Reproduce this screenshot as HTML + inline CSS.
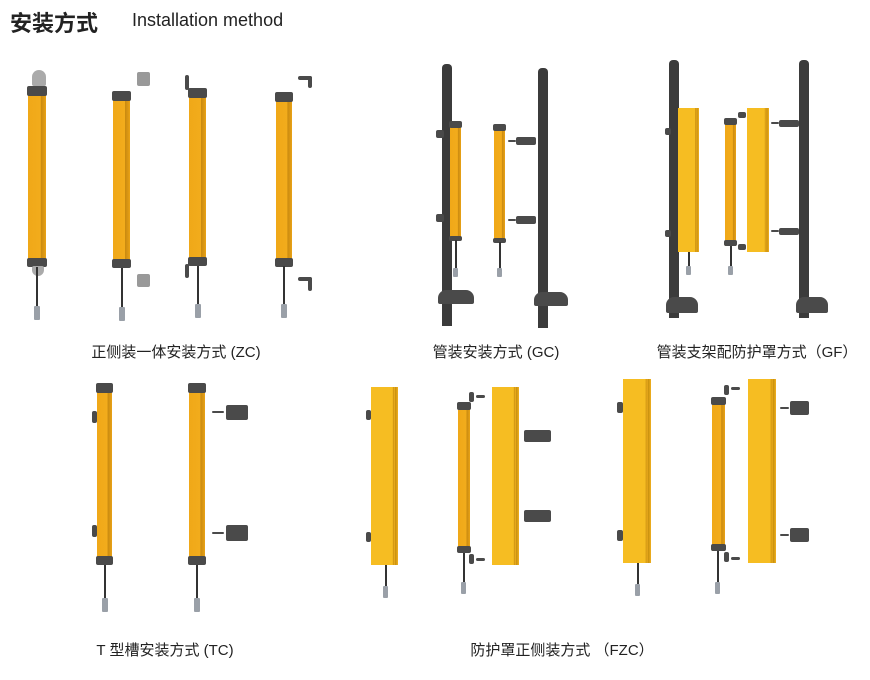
<!DOCTYPE html>
<html><head><meta charset="utf-8"><style>
*{margin:0;padding:0;box-sizing:border-box}
body{width:870px;height:680px;background:#fff;position:relative;overflow:hidden;font-family:"Liberation Sans","Noto Sans CJK SC",sans-serif;color:#222}
div{position:absolute}
.bar{background:linear-gradient(90deg,#f0a818 0,#f2ac1c 70%,#c98a10 72%,#e9a216 100%)}
.cap{background:#4a4a4a;border-radius:2px}
.cab{background:#333;width:2px}
.plug{background:#9aa0a8;width:6px;height:14px;border-radius:1px}
.pole{background:#3b3b3b;border-radius:4px 4px 0 0}
.cov{background:linear-gradient(90deg,#f6bd22 0,#f6bd22 80%,#c8900e 82%,#f0b020 86%,#c8900e 90%,#f0b020 100%)}
.br{background:#4a4a4a;border-radius:2px}
.lbl{font-size:15px;white-space:nowrap;transform:translateX(-50%)}
</style></head><body>
<div style="left:10px;top:6px;font-size:22px;font-weight:bold;color:#222">安装方式</div>
<div style="left:132px;top:10px;font-size:18px;color:#222">Installation method</div>

<!-- ZC -->
<div style="left:32px;top:70px;width:14px;height:16px;background:#aaa;border-radius:7px 7px 2px 2px"></div>
<div class="bar" style="left:28px;top:88px;width:18px;height:176px"></div>
<div class="cap" style="left:27px;top:86px;width:20px;height:10px"></div>
<div class="cap" style="left:27px;top:258px;width:20px;height:9px"></div>
<div style="left:32px;top:266px;width:12px;height:10px;background:#aaa;border-radius:2px 2px 6px 6px"></div>
<div class="cab" style="left:36px;top:267px;height:40px"></div><div class="plug" style="left:34px;top:306px"></div>

<div class="bar" style="left:113px;top:94px;width:17px;height:172px"></div>
<div class="cap" style="left:112px;top:91px;width:19px;height:10px"></div>
<div class="cap" style="left:112px;top:259px;width:19px;height:9px"></div>
<div class="br" style="left:137px;top:72px;width:13px;height:14px;background:#999"></div>
<div class="br" style="left:137px;top:274px;width:13px;height:13px;background:#999"></div>
<div class="cab" style="left:121px;top:268px;height:40px"></div><div class="plug" style="left:119px;top:307px"></div>

<div class="bar" style="left:189px;top:90px;width:17px;height:174px"></div>
<div class="cap" style="left:188px;top:88px;width:19px;height:10px"></div>
<div class="cap" style="left:188px;top:257px;width:19px;height:9px"></div>
<div class="br" style="left:185px;top:75px;width:4px;height:15px"></div>
<div class="br" style="left:185px;top:264px;width:4px;height:14px"></div>
<div class="cab" style="left:197px;top:266px;height:40px"></div><div class="plug" style="left:195px;top:304px"></div>

<div class="bar" style="left:276px;top:94px;width:16px;height:170px"></div>
<div class="cap" style="left:275px;top:92px;width:18px;height:10px"></div>
<div class="cap" style="left:275px;top:258px;width:18px;height:9px"></div>
<div class="br" style="left:298px;top:76px;width:14px;height:4px"></div><div class="br" style="left:308px;top:76px;width:4px;height:12px"></div>
<div class="br" style="left:298px;top:277px;width:14px;height:4px"></div><div class="br" style="left:308px;top:277px;width:4px;height:14px"></div>
<div class="cab" style="left:283px;top:266px;height:40px"></div><div class="plug" style="left:281px;top:304px"></div>
<div class="lbl" style="left:176px;top:341px">正侧装一体安装方式 (ZC)</div>

<!-- GC -->
<div class="pole" style="left:442px;top:64px;width:10px;height:262px"></div>
<div class="pole" style="left:538px;top:68px;width:10px;height:260px"></div>
<div class="br" style="left:436px;top:130px;width:8px;height:8px"></div><div class="br" style="left:436px;top:214px;width:8px;height:8px"></div>
<div class="bar" style="left:450px;top:122px;width:11px;height:118px"></div>
<div class="cap" style="left:449px;top:121px;width:13px;height:7px"></div><div class="cap" style="left:449px;top:236px;width:13px;height:5px"></div>
<div class="cab" style="left:455px;top:240px;height:30px"></div><div class="plug" style="left:453px;top:268px;width:5px;height:9px"></div>
<div class="bar" style="left:494px;top:126px;width:11px;height:116px"></div>
<div class="cap" style="left:493px;top:124px;width:13px;height:7px"></div><div class="cap" style="left:493px;top:238px;width:13px;height:5px"></div>
<div class="cab" style="left:499px;top:242px;height:28px"></div><div class="plug" style="left:497px;top:268px;width:5px;height:9px"></div>
<div class="br" style="left:516px;top:137px;width:20px;height:8px"></div><div class="br" style="left:508px;top:140px;width:8px;height:2px"></div>
<div class="br" style="left:516px;top:216px;width:20px;height:8px"></div><div class="br" style="left:508px;top:219px;width:8px;height:2px"></div>
<div class="br" style="left:438px;top:290px;width:36px;height:14px;border-radius:8px 8px 2px 2px"></div>
<div class="br" style="left:534px;top:292px;width:34px;height:14px;border-radius:8px 8px 2px 2px"></div>

<!-- GF -->
<div class="pole" style="left:669px;top:60px;width:10px;height:258px"></div>
<div class="pole" style="left:799px;top:60px;width:10px;height:258px"></div>
<div class="cov" style="left:678px;top:108px;width:21px;height:144px"></div>
<div class="cov" style="left:747px;top:108px;width:22px;height:144px"></div>
<div class="br" style="left:665px;top:128px;width:6px;height:7px"></div><div class="br" style="left:665px;top:230px;width:6px;height:7px"></div>
<div class="bar" style="left:725px;top:120px;width:11px;height:126px"></div>
<div class="cap" style="left:724px;top:118px;width:13px;height:7px"></div><div class="cap" style="left:724px;top:240px;width:13px;height:6px"></div>
<div class="br" style="left:738px;top:112px;width:8px;height:6px"></div><div class="br" style="left:738px;top:244px;width:8px;height:6px"></div>
<div class="br" style="left:779px;top:120px;width:20px;height:7px"></div><div class="br" style="left:771px;top:122px;width:8px;height:2px"></div>
<div class="br" style="left:779px;top:228px;width:20px;height:7px"></div><div class="br" style="left:771px;top:230px;width:8px;height:2px"></div>
<div class="cab" style="left:688px;top:252px;height:18px"></div><div class="plug" style="left:686px;top:266px;width:5px;height:9px"></div>
<div class="cab" style="left:730px;top:246px;height:22px"></div><div class="plug" style="left:728px;top:266px;width:5px;height:9px"></div>
<div class="br" style="left:666px;top:297px;width:32px;height:16px;border-radius:8px 8px 2px 2px"></div>
<div class="br" style="left:796px;top:297px;width:32px;height:16px;border-radius:8px 8px 2px 2px"></div>
<div class="lbl" style="left:757px;top:341px">管装支架配防护罩方式（GF）</div>
<div class="lbl" style="left:496px;top:341px">管装安装方式 (GC)</div>

<!-- TC -->
<div class="bar" style="left:97px;top:385px;width:15px;height:176px"></div>
<div class="cap" style="left:96px;top:383px;width:17px;height:10px"></div><div class="cap" style="left:96px;top:556px;width:17px;height:9px"></div>
<div class="br" style="left:92px;top:411px;width:5px;height:12px"></div><div class="br" style="left:92px;top:525px;width:5px;height:12px"></div>
<div class="cab" style="left:104px;top:565px;height:35px"></div><div class="plug" style="left:102px;top:598px"></div>
<div class="bar" style="left:189px;top:385px;width:16px;height:176px"></div>
<div class="cap" style="left:188px;top:383px;width:18px;height:10px"></div><div class="cap" style="left:188px;top:556px;width:18px;height:9px"></div>
<div class="br" style="left:226px;top:405px;width:22px;height:15px"></div><div class="br" style="left:226px;top:525px;width:22px;height:16px"></div>
<div class="br" style="left:212px;top:411px;width:12px;height:2px"></div><div class="br" style="left:212px;top:532px;width:12px;height:2px"></div>
<div class="cab" style="left:196px;top:565px;height:35px"></div><div class="plug" style="left:194px;top:598px"></div>
<div class="lbl" style="left:165px;top:639px">T 型槽安装方式 (TC)</div>

<!-- FZC -->
<div class="cov" style="left:371px;top:387px;width:27px;height:178px"></div>
<div class="br" style="left:366px;top:410px;width:5px;height:10px"></div><div class="br" style="left:366px;top:532px;width:5px;height:10px"></div>
<div class="cab" style="left:385px;top:565px;height:22px"></div><div class="plug" style="left:383px;top:586px;width:5px;height:12px"></div>
<div class="bar" style="left:458px;top:404px;width:12px;height:148px"></div>
<div class="cap" style="left:457px;top:402px;width:14px;height:8px"></div><div class="cap" style="left:457px;top:546px;width:14px;height:7px"></div>
<div class="br" style="left:469px;top:392px;width:5px;height:10px"></div><div class="br" style="left:476px;top:395px;width:9px;height:3px"></div>
<div class="br" style="left:469px;top:554px;width:5px;height:10px"></div><div class="br" style="left:476px;top:558px;width:9px;height:3px"></div>
<div class="cab" style="left:463px;top:553px;height:30px"></div><div class="plug" style="left:461px;top:582px;width:5px;height:12px"></div>
<div class="cov" style="left:492px;top:387px;width:27px;height:178px"></div>
<div class="br" style="left:524px;top:430px;width:27px;height:12px"></div><div class="br" style="left:524px;top:510px;width:27px;height:12px"></div>
<div class="cov" style="left:623px;top:379px;width:28px;height:184px"></div>
<div class="br" style="left:617px;top:402px;width:6px;height:11px"></div><div class="br" style="left:617px;top:530px;width:6px;height:11px"></div>
<div class="cab" style="left:637px;top:563px;height:22px"></div><div class="plug" style="left:635px;top:584px;width:5px;height:12px"></div>
<div class="bar" style="left:712px;top:399px;width:13px;height:152px"></div>
<div class="cap" style="left:711px;top:397px;width:15px;height:8px"></div><div class="cap" style="left:711px;top:544px;width:15px;height:7px"></div>
<div class="br" style="left:724px;top:385px;width:5px;height:10px"></div><div class="br" style="left:731px;top:387px;width:9px;height:3px"></div>
<div class="br" style="left:724px;top:552px;width:5px;height:10px"></div><div class="br" style="left:731px;top:557px;width:9px;height:3px"></div>
<div class="cab" style="left:717px;top:551px;height:32px"></div><div class="plug" style="left:715px;top:582px;width:5px;height:12px"></div>
<div class="cov" style="left:748px;top:379px;width:28px;height:184px"></div>
<div class="br" style="left:790px;top:401px;width:19px;height:14px"></div><div class="br" style="left:790px;top:528px;width:19px;height:14px"></div>
<div class="br" style="left:780px;top:407px;width:9px;height:2px"></div><div class="br" style="left:780px;top:534px;width:9px;height:2px"></div>
<div class="lbl" style="left:562px;top:639px">防护罩正侧装方式 （FZC）</div>
</body></html>
